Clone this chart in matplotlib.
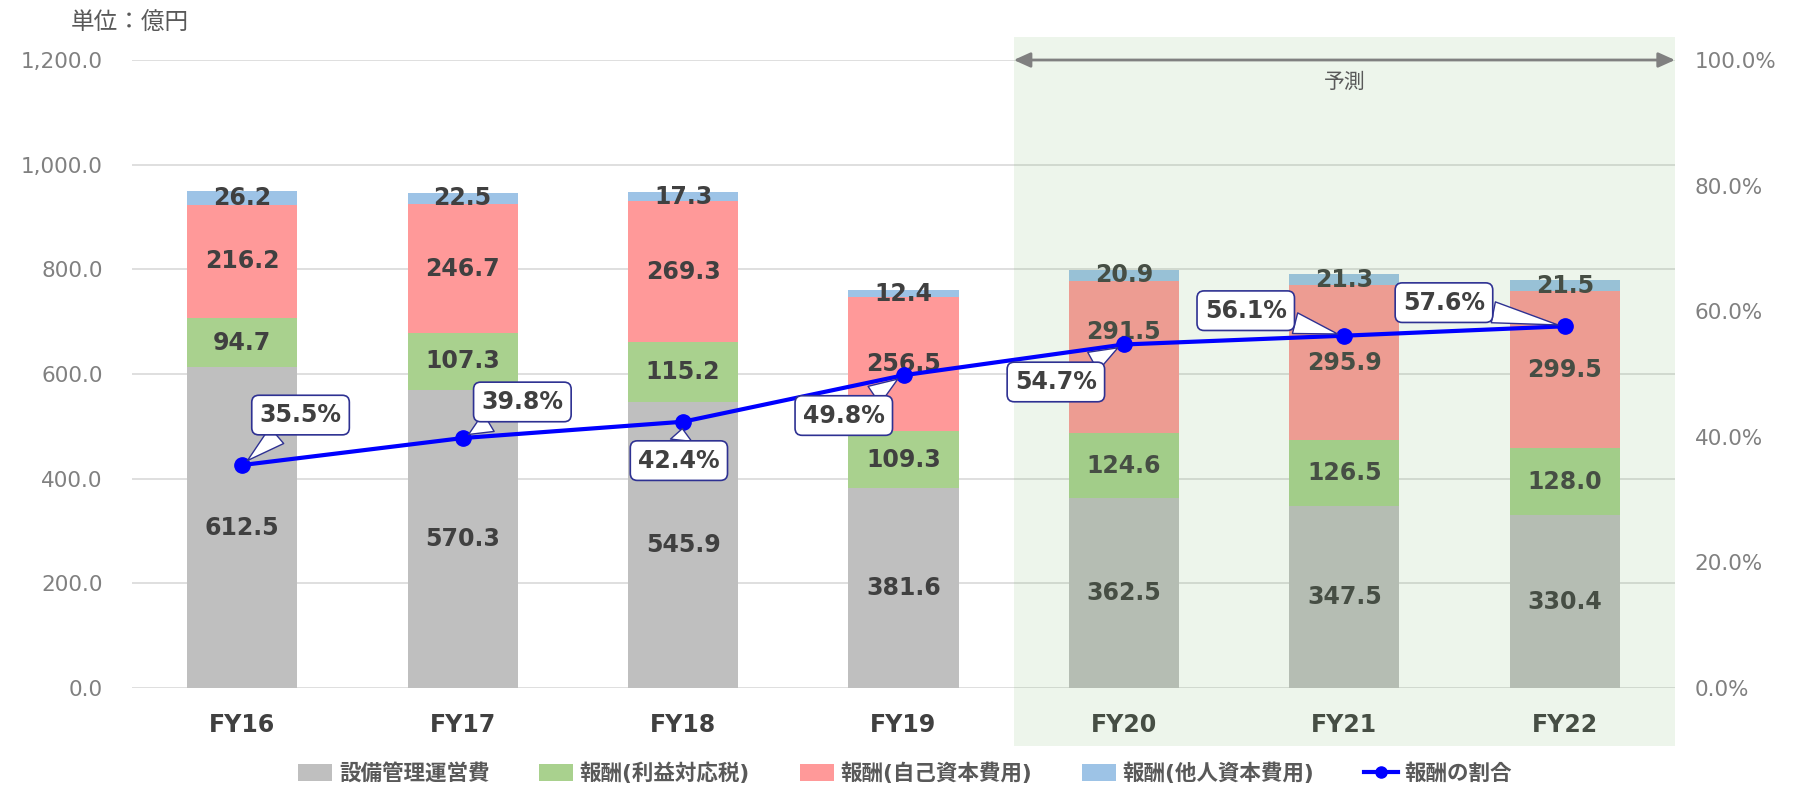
import matplotlib
matplotlib.use("Agg")
import matplotlib.pyplot as plt
import matplotlib.transforms as mtransforms
from matplotlib.patches import Patch, Rectangle
from matplotlib.lines import Line2D
from matplotlib.ticker import FuncFormatter, FixedLocator

plt.rcParams['font.family'] = ['DejaVu Sans', 'Noto Sans CJK JP']

# ---- data ----
categories = ["FY16", "FY17", "FY18", "FY19", "FY20", "FY21", "FY22"]
opex = [612.5, 570.3, 545.9, 381.6, 362.5, 347.5, 330.4]
fee_tax = [94.7, 107.3, 115.2, 109.3, 124.6, 126.5, 128.0]
fee_equity = [216.2, 246.7, 269.3, 256.5, 291.5, 295.9, 299.5]
fee_debt = [26.2, 22.5, 17.3, 12.4, 20.9, 21.3, 21.5]
fee_ratio = [35.5, 39.8, 42.4, 49.8, 54.7, 56.1, 57.6]
series_names = ["設備管理運営費", "報酬(利益対応税)", "報酬(自己資本費用)", "報酬(他人資本費用)", "報酬の割合"]
left_ticks = [0, 200, 400, 600, 800, 1000, 1200]
right_ticks = [0, 20, 40, 60, 80, 100]
forecast_label = "予測"
unit_label = "単位：億円"
forecast_start = 4  # index of first forecast year

colors = ["#BFBFBF", "#A9D18E", "#FF9999", "#9DC3E6"]
label_color = "#404040"
tick_color = "#808080"

fig = plt.figure(figsize=(17.96, 7.88), dpi=100)
ax = fig.add_axes([132/1796, 1-688/788, (1675-132)/1796, (688-60)/788])
x = list(range(len(categories)))

# manual nudges (points) of a few segment labels, as in the original
label_nudge = {(2, 4): 18}

bottom = [0.0]*len(x)
for si, (vals, col) in enumerate(zip([opex, fee_tax, fee_equity, fee_debt], colors)):
    bars = ax.bar(x, vals, 0.5, bottom=bottom, color=col, zorder=2)
    texts = ax.bar_label(bars, labels=[f"{v:.1f}" for v in vals], label_type='center',
                         fontsize=17, fontweight='bold', color=label_color)
    for bi, t in enumerate(texts):
        t.set_zorder(3)
        if (si, bi) in label_nudge:
            ox, oy = t.xyann
            t.xyann = (ox, oy + label_nudge[(si, bi)])
    bottom = [b+v for b, v in zip(bottom, vals)]

ax.set_xlim(-0.5, len(x)-0.5)
ax.set_ylim(0, 1200)
ax.yaxis.set_major_locator(FixedLocator(left_ticks))
ax.yaxis.set_major_formatter(FuncFormatter(lambda v, p: f"{v:,.1f}"))
ax.set_xticks(x)
ax.set_xticklabels(categories, fontsize=17, fontweight='bold', color=label_color)
ax.tick_params(axis='x', length=0, pad=18)
ax.tick_params(axis='y', length=0, pad=21, labelsize=15.5, labelcolor=tick_color)
ax.grid(axis='y', color='#D9D9D9', linewidth=1.2)
ax.set_axisbelow(True)
for s in ax.spines.values():
    s.set_visible(False)

# forecast overlay
trans = mtransforms.blended_transform_factory(ax.transData, ax.transAxes)
rect = Rectangle((forecast_start-0.5, -0.092), len(x)-forecast_start, 1.129,
                 transform=trans, facecolor="#77B767", alpha=0.125,
                 edgecolor='none', zorder=5, clip_on=False)
ax.add_patch(rect)

# secondary axis
ax2 = ax.twinx()
ax2.set_ylim(0, 100)
ax2.yaxis.set_major_locator(FixedLocator(right_ticks))
ax2.yaxis.set_major_formatter(FuncFormatter(lambda v, p: f"{v:.1f}%"))
ax2.tick_params(axis='y', length=0, pad=14, labelsize=15.5, labelcolor=tick_color)
for s in ax2.spines.values():
    s.set_visible(False)

ax2.plot(x, fee_ratio, color="#0000FF", linewidth=3, marker='o', markersize=11, zorder=4)

offsets = [(42, 36), (43, 26), (-3, -28), (-43, -29), (-49, -27), (-71, 18), (-87, 17)]
for xi, v, off in zip(x, fee_ratio, offsets):
    ax2.annotate(f"{v:.1f}%", xy=(xi, v), xytext=off, textcoords='offset points',
                 ha='center', va='center', fontsize=17, fontweight='bold', color=label_color,
                 bbox=dict(boxstyle='round,pad=0.33,rounding_size=0.3', fc='white', ec='#2E3192', lw=1.2),
                 arrowprops=dict(arrowstyle='wedge,tail_width=0.9,shrink_factor=0.5', fc='white',
                                 ec='#2E3192', lw=1.0, shrinkA=0, shrinkB=5),
                 zorder=6)

# forecast arrow
ax.annotate("", xy=(len(x)-0.5, 1200), xytext=(forecast_start-0.5, 1200),
            arrowprops=dict(arrowstyle='<|-|>,head_length=1.0,head_width=0.45', color='#808080',
                            lw=2, shrinkA=0, shrinkB=0), zorder=6, annotation_clip=False)
ax.text((forecast_start-0.5+len(x)-0.5)/2, 1158, forecast_label, ha='center', va='center',
        fontsize=15, color='#595959', zorder=6)

fig.text(71/1796, 1-23/788, unit_label, ha='left', va='center', fontsize=17, color='#595959')

handles = [Patch(facecolor=c) for c in colors] + [Line2D([0], [0], color="#0000FF", lw=3, marker='o', markersize=8)]
leg = fig.legend(handles, series_names, loc='center', bbox_to_anchor=(0.504, 1-773/788), ncol=5,
                 frameon=False, prop={'weight': 'bold', 'size': 15.5}, handlelength=1.6,
                 handletextpad=0.3, columnspacing=2.3, handleheight=0.8)
for t in leg.get_texts():
    t.set_color('#595959')

fig.savefig("out.png", dpi=100)
